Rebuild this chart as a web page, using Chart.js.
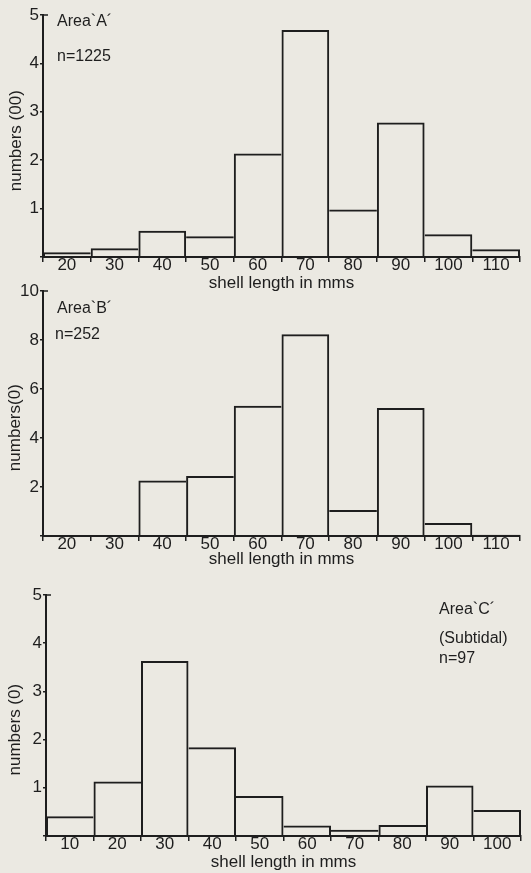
<!DOCTYPE html>
<html lang="en">
<head>
    <meta charset="UTF-8">
    <title>Shell length frequency - areas A, B, C</title>
    <script src="https://cdn.jsdelivr.net/npm/chart.js"></script>
    <style>
        body { margin: 0; width: 531px; height: 873px; background: #ebe9e2; position: relative; overflow: hidden; font-family: "Liberation Sans", Arial, sans-serif; color: #1e1e1e; }
        .box { position: absolute; left: 0; width: 531px; }
        .note { position: absolute; font-size: 16px; line-height: 16px; white-space: nowrap; }
    </style>
</head>
<body>
    <div class="box" style="top:0;height:295px"><canvas id="chartA"></canvas></div>
    <div class="box" style="top:276px;height:298px"><canvas id="chartB"></canvas></div>
    <div class="box" style="top:580px;height:293px"><canvas id="chartC"></canvas></div>

    <div class="note" style="left:57px;top:13px">Area`A´</div>
    <div class="note" style="left:57px;top:48px">n=1225</div>
    <div class="note" style="left:57px;top:300px">Area`B´</div>
    <div class="note" style="left:55px;top:326px">n=252</div>
    <div class="note" style="left:439px;top:601px">Area`C´</div>
    <div class="note" style="left:439px;top:630px">(Subtidal)</div>
    <div class="note" style="left:439px;top:650px">n=97</div>

    <script>
        // shell length classes (mm), class mid-points
        const lengthsAB = ['20', '30', '40', '50', '60', '70', '80', '90', '100', '110'];
        const lengthsC = ['10', '20', '30', '40', '50', '60', '70', '80', '90', '100'];

        // numbers
        const areaA = [0.10, 0.18, 0.54, 0.43, 2.14, 4.69, 0.98, 2.78, 0.47, 0.16];   // hundreds
        const areaB = [0, 0, 2.27, 2.45, 5.32, 8.23, 1.06, 5.22, 0.53, 0.05];         // tens
        const areaC = [0.41, 1.13, 3.63, 1.84, 0.83, 0.22, 0.13, 0.23, 1.05, 0.54];   // tens

        const ink = '#1e1e1e';
        const font17 = { family: '"Liberation Sans", Arial, sans-serif', size: 17 };

        // thick edge only on the taller side of each step, so shared edges stay one line
        function edgeWidths(ctx) {
            const vals = ctx.dataset.data;
            const i = ctx.dataIndex;
            const v = vals[i];
            const prev = i > 0 ? vals[i - 1] : 0;
            const next = i < vals.length - 1 ? vals[i + 1] : 0;
            return { top: 2, bottom: 0, left: v >= prev ? 2 : 0, right: v > next ? 2 : 0 };
        }

        // little cap at the top of the y axis
        const axisCap = {
            id: 'axisCap',
            afterDraw(chart) {
                const { ctx, chartArea } = chart;
                ctx.save();
                ctx.strokeStyle = ink;
                ctx.lineWidth = 1.5;
                ctx.beginPath();
                ctx.moveTo(chartArea.left, chartArea.top);
                ctx.lineTo(chartArea.left + 5, chartArea.top);
                ctx.stroke();
                ctx.restore();
            }
        };

        function makeHistogram(id, labels, values, yMax, yStep, yTitle, opts) {
            new Chart(document.getElementById(id), {
                type: 'bar',
                data: {
                    labels: labels,
                    datasets: [{
                        data: values,
                        backgroundColor: 'rgba(0,0,0,0)',
                        borderColor: ink,
                        borderWidth: edgeWidths,
                        inflateAmount: 0,
                        barPercentage: 1,
                        categoryPercentage: 1
                    }]
                },
                options: {
                    responsive: true,
                    maintainAspectRatio: false,
                    animation: false,
                    layout: { padding: { top: 15, right: opts.right, left: 0, bottom: 0 } },
                    plugins: { legend: { display: false }, tooltip: { enabled: false } },
                    scales: {
                        x: {
                            offset: true,
                            afterFit: s => { s.height = opts.xHeight; },
                            grid: { display: true, offset: true, drawOnChartArea: false, drawTicks: true, tickLength: 5, color: ink, lineWidth: 1.5 },
                            border: { display: true, color: ink, width: 2 },
                            ticks: { color: ink, font: font17, padding: -7, maxRotation: 0, autoSkip: false },
                            title: { display: true, text: 'shell length in mms', color: ink, font: font17, padding: { top: 0, bottom: opts.titlePad } }
                        },
                        y: {
                            min: 0,
                            max: yMax,
                            afterFit: s => { s.width = opts.yWidth; },
                            grid: { display: true, drawOnChartArea: false, drawTicks: true, tickLength: 3, color: ink, lineWidth: 1.5 },
                            border: { display: true, color: ink, width: 2 },
                            ticks: { stepSize: yStep, color: ink, font: font17, padding: 1, callback: v => v === 0 ? '' : v },
                            // trailing spaces push the rotated title a little below centre, as in the original
                            title: { display: true, text: yTitle + ' '.repeat(opts.yShift), color: ink, font: font17, padding: { top: opts.yTitlePad, bottom: 0 } }
                        }
                    }
                },
                plugins: [axisCap]
            });
        }

        makeHistogram('chartA', lengthsAB, areaA, 5, 1, 'numbers (00)', { right: 11, xHeight: 38, titlePad: 1, yWidth: 43, yTitlePad: 6, yShift: 2 });
        makeHistogram('chartB', lengthsAB, areaB, 10, 2, 'numbers(0)', { right: 11, xHeight: 38, titlePad: 4, yWidth: 43, yTitlePad: 5, yShift: 6 });
        makeHistogram('chartC', lengthsC, areaC, 5, 1, 'numbers (0)', { right: 10, xHeight: 37, titlePad: 0, yWidth: 46, yTitlePad: 5, yShift: 6 });
    </script>
</body>
</html>
